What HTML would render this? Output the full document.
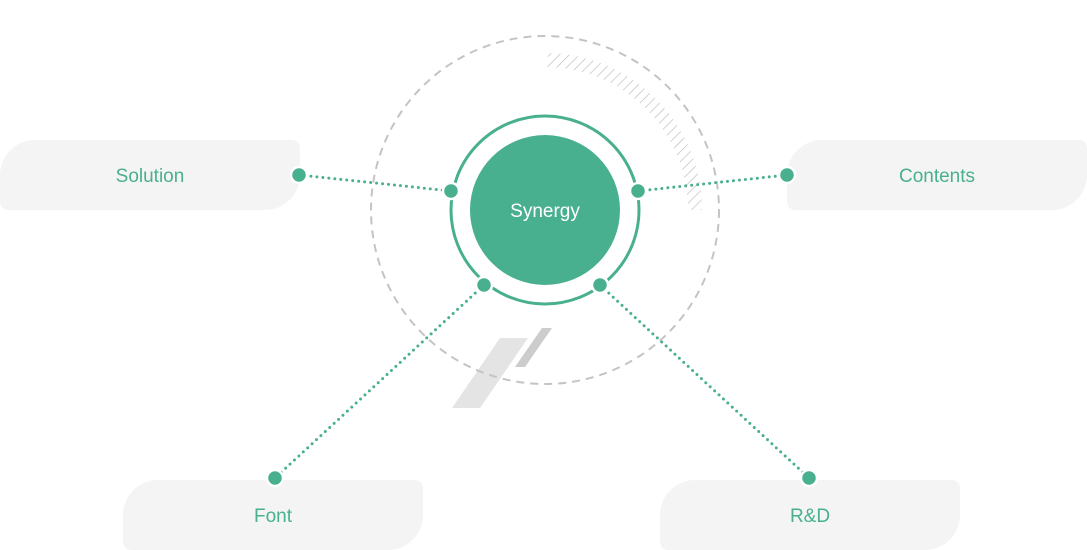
<!DOCTYPE html>
<html><head><meta charset="utf-8"><style>
body{margin:0;width:1087px;height:550px;background:#fff;overflow:hidden;position:relative;font-family:"Liberation Sans","DejaVu Sans",sans-serif}
.b{position:absolute;width:300px;height:70px;background:#f4f4f4;border-radius:35px 8px 35px 8px;color:#49b08f;font-size:19px;display:flex;align-items:center;justify-content:center;box-sizing:border-box;padding-top:4px}
svg{position:absolute;left:0;top:0}
</style></head><body>
<div class="b" style="left:0;top:140px">Solution</div>
<div class="b" style="left:787px;top:140px">Contents</div>
<div class="b" style="left:123px;top:480px">Font</div>
<div class="b" style="left:660px;top:480px">R&amp;D</div>
<svg width="1087" height="550" viewBox="0 0 1087 550">
<defs>
<pattern id="h" width="7" height="7" patternUnits="userSpaceOnUse" patternTransform="rotate(45)">
<line x1="0" y1="0" x2="0" y2="7" stroke="#bbb" stroke-width="1.3"/>
</pattern>
<clipPath id="c"><path d="M547.7,53 A157,157 0 0 1 702,210 L688,210 A143,143 0 0 0 547.5,67 Z"/></clipPath>
</defs>
<polygon points="500,338 528,338 480,408 452,408" fill="#e4e4e4"/>
<polygon points="542,328 552,328 525,367 515,367" fill="#cccccc"/>
<circle cx="545" cy="210" r="174" fill="none" stroke="#c4c4c4" stroke-width="2" stroke-dasharray="8 6"/>
<rect x="540" y="45" width="170" height="170" fill="url(#h)" clip-path="url(#c)"/>
<g stroke="#49b08f" stroke-width="3" stroke-dasharray="0 6" stroke-linecap="round" fill="none">
<line x1="299" y1="175" x2="451" y2="191"/>
<line x1="638" y1="191" x2="787" y2="175"/>
<line x1="484" y1="285" x2="275" y2="478"/>
<line x1="600" y1="285" x2="809" y2="478"/>
</g>
<circle cx="545" cy="210" r="94" fill="none" stroke="#49b08f" stroke-width="3"/>
<circle cx="545" cy="210" r="75" fill="#49b08f"/>
<text x="545" y="217" text-anchor="middle" fill="#fff" font-size="19" font-family="Liberation Sans, sans-serif">Synergy</text>
<g fill="#49b08f" stroke="#fff" stroke-width="2.5">
<circle cx="299" cy="175" r="8"/><circle cx="451" cy="191" r="8"/>
<circle cx="638" cy="191" r="8"/><circle cx="787" cy="175" r="8"/>
<circle cx="484" cy="285" r="8"/><circle cx="600" cy="285" r="8"/>
<circle cx="275" cy="478" r="8"/><circle cx="809" cy="478" r="8"/>
</g>
</svg>
</body></html>
